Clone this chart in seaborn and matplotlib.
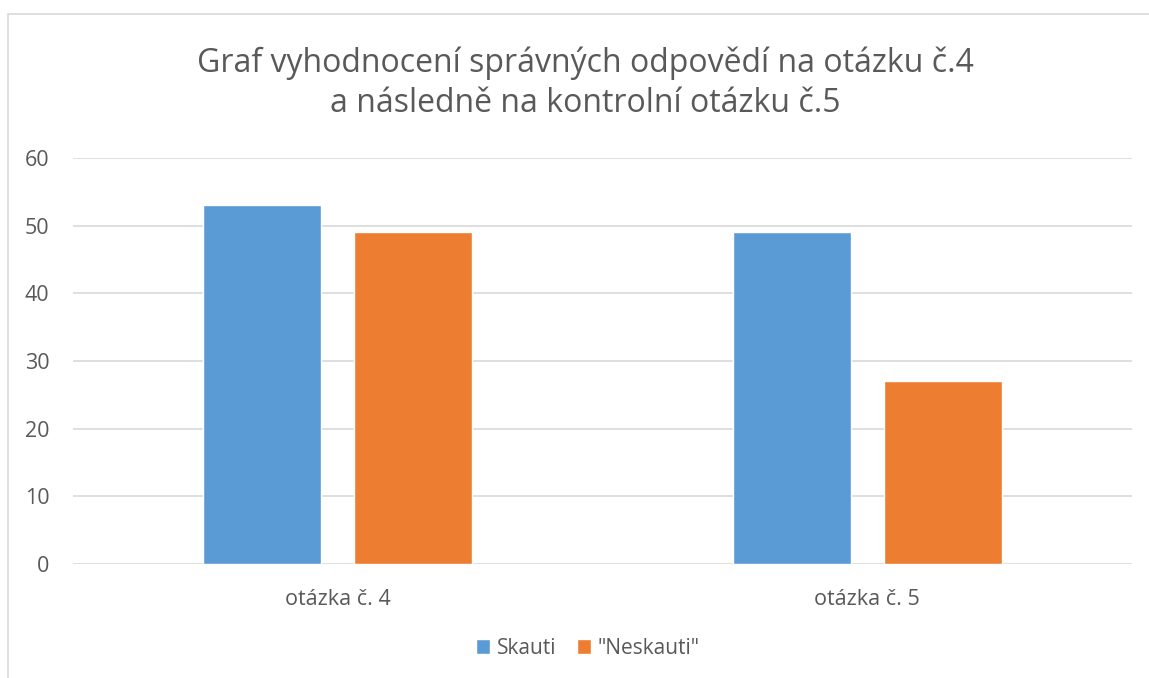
import matplotlib
matplotlib.use("Agg")
import matplotlib.pyplot as plt
import seaborn as sns
import pandas as pd
from matplotlib.patches import Rectangle

categories = ["otázka č. 4", "otázka č. 5"]
series_names = ["Skauti", "\"Neskauti\""]
skauti = [53, 49]
neskauti = [49, 27]
yticks = [0, 10, 20, 30, 40, 50, 60]
title = "Graf vyhodnocení správných odpovědí na otázku č.4\na následně na kontrolní otázku č.5"

df = pd.DataFrame({
    "cat": categories * 2,
    "series": [series_names[0]] * 2 + [series_names[1]] * 2,
    "value": skauti + neskauti,
})

sns.set_theme(style="white")
plt.rcParams["font.family"] = ["Open Sans", "DejaVu Sans"]

fig = plt.figure(figsize=(11.49, 6.78), dpi=100)
ax = fig.add_axes([73/1149, 1-564/678, (1132-73)/1149, (564-158)/678])

sns.barplot(data=df, x="cat", y="value", hue="series", order=categories,
            hue_order=series_names, palette=["#5b9bd5", "#ed7d31"],
            width=0.57, gap=0.218, ax=ax, saturation=1, legend=True)

ax.set_ylim(0, 60)
ax.set_xlim(-0.5, 1.5)
ax.set_yticks(yticks)
ax.yaxis.grid(True, color="#d9d9d9", linewidth=1.2)
ax.set_axisbelow(True)
for s in ax.spines.values():
    s.set_visible(False)
ax.set_xlabel("")
ax.set_ylabel("")
ax.tick_params(axis="both", length=0, labelsize=15.5, labelcolor="#595959")
ax.tick_params(axis="y", pad=17)
ax.tick_params(axis="x", pad=18)

leg = ax.legend(loc="center", bbox_to_anchor=(0.486, -0.207), ncol=2, frameon=False,
                fontsize=15, handlelength=0.7, handleheight=0.7, handletextpad=0.3,
                columnspacing=1.0)
for t in leg.get_texts():
    t.set_color("#595959")

fig.text(585/1149, 1-83/678, title, ha="center", va="center", fontsize=23,
         color="#595959", linespacing=1.27)

fig.patches.append(Rectangle((8/1149, -0.1), 1.2, 1-14/678+0.1,
                             transform=fig.transFigure, fill=False,
                             edgecolor="#d9d9d9", linewidth=1.2))

fig.savefig("out.png", dpi=100)
